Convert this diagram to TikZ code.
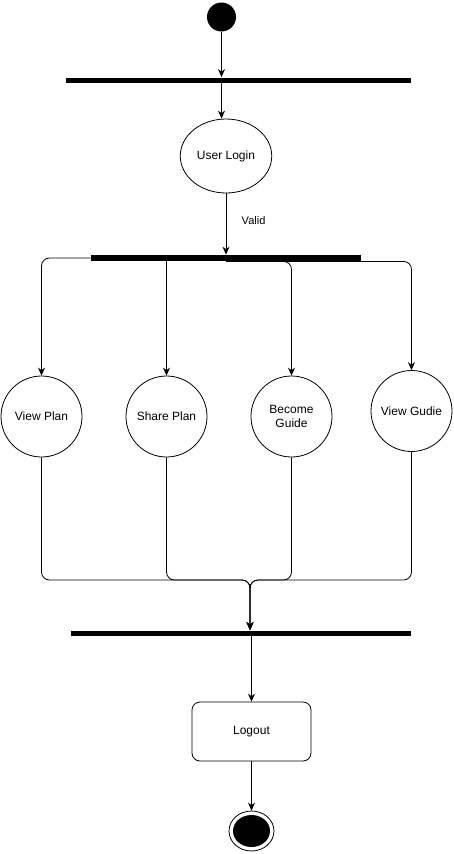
\documentclass[tikz,border=0pt]{standalone}
\usepackage{fontspec}
\setmainfont{Liberation Sans}
\usetikzlibrary{shapes.geometric,arrows.meta}

\begin{document}
\begin{tikzpicture}[
          x=1pt, y=-1pt,
          >={Stealth[length=8pt,width=7pt]},
          font=\fontsize{12}{14}\selectfont,
          every path/.style={line width=0.8pt},
          activity/.style={
            circle,
            draw=black,
            minimum size=81pt,
            inner sep=0pt,
            align=center,
          },
          bar/.style={
            rectangle,
            fill=black,
            inner sep=0pt,
          },
        ]
          \useasboundingbox (0,0) rectangle (454,854);
          % start and login
          \node[circle, fill=black, minimum size=29pt, inner sep=0pt](start) at (221.5,17){};
          \node[bar, minimum width=345pt, minimum height=5pt](bar1) at (238.5,80){};
          \node[ellipse, draw=black, minimum width=89pt, minimum height=74pt](login) at (226,156){User Login};
          \node[bar, minimum width=270pt, minimum height=6pt](bar2) at (226,258){};
          % activities
          \node[activity](vp) at (41.5,416.5){View Plan};
          \node[activity](sp) at (166.5,416.5){Share Plan};
          \node[activity](bg) at (291.5,416.5){Become\\Guide};
          \node[activity](vg) at (411.5,411){View Gudie};
          \coordinate (m) at (250,580);
          \node[bar, minimum width=340pt, minimum height=5pt](bar3) at (241,633){};
          \node[rectangle, draw=black, rounded corners=8pt, minimum width=119pt, minimum height=59pt](logout) at (251.5,731.5){Logout};
          \node[ellipse, draw=black, minimum width=45pt, minimum height=40pt, inner sep=0pt](final) at (251.5,831){};
          \node[ellipse, fill=black, minimum width=37pt, minimum height=32pt, inner sep=0pt](finalin) at (final){};

          \draw[->] (start) -- (start |- bar1.north);
          \draw[->] (bar1.south -| start) -- (start |- login.north);
          \draw[->] (login) -- node[pos=0.45, right=12pt]{\fontsize{11}{13}\selectfont Valid} (login |- bar2.north);
          \draw[->, rounded corners=8pt] (bar2.west) -| (vp);
          \draw[->] (bar2.south -| sp) -- (sp);
          \draw[->, rounded corners=8pt] (bar2.south) -| (bg);
          \draw[->, rounded corners=8pt] (bar2.south) -| (vg);
          \draw[->, rounded corners=8pt] (vp) |- (m) -- (m |- bar3.north);
          \draw[->, rounded corners=8pt] (sp) |- (m) -- (m |- bar3.north);
          \draw[->, rounded corners=8pt] (bg) |- (m) -- (m |- bar3.north);
          \draw[->, rounded corners=8pt] (vg) |- (m) -- (m |- bar3.north);
          \draw[->] (bar3.south -| logout) -- (logout);
          \draw[->] (logout) -- (final);
        \end{tikzpicture}
\end{document}
